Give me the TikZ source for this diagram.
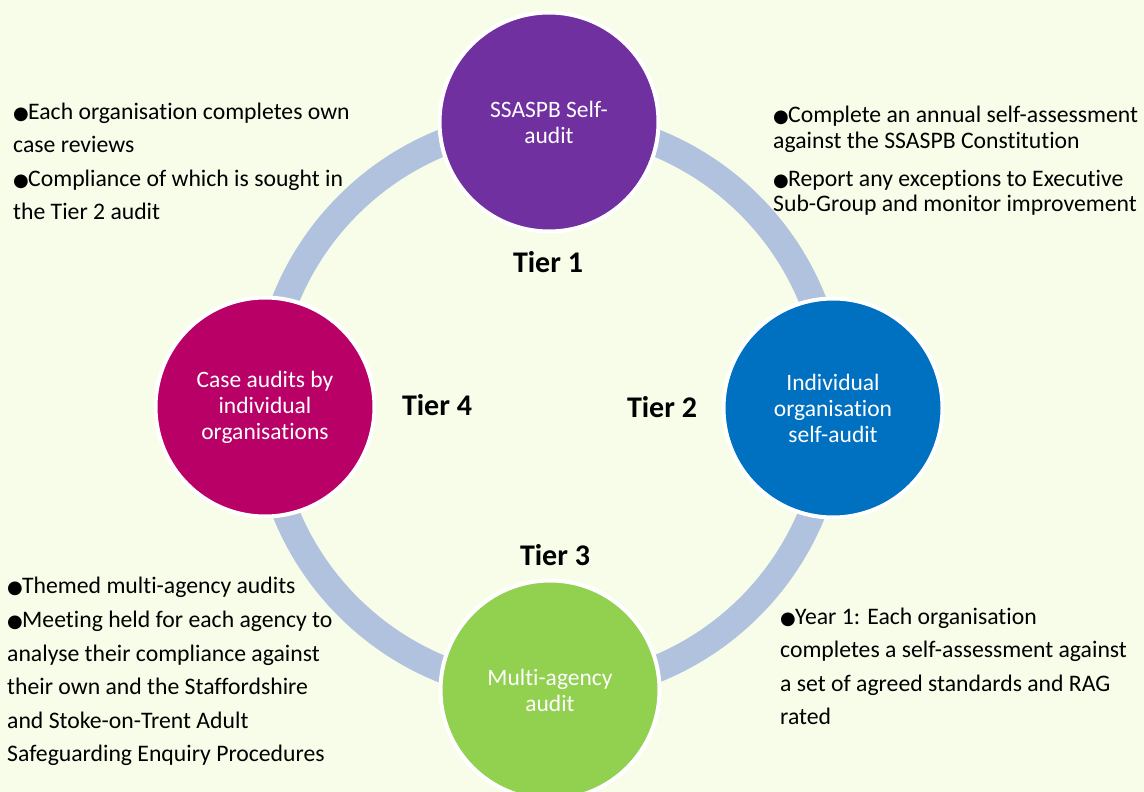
\documentclass[tikz,border=0pt]{standalone}
\usepackage{fontspec}
\setmainfont{Carlito}[Ligatures={NoCommon}]
\newfontfamily\symf{DejaVu Sans}
\definecolor{bgc}{HTML}{F7FDE9}
\definecolor{ringc}{HTML}{B0C2DE}
\definecolor{purplec}{HTML}{7030A0}
\definecolor{bluec}{HTML}{0070C0}
\definecolor{greenc}{HTML}{92D050}
\definecolor{magc}{HTML}{B80066}
\newcommand\bul{\makebox[15pt][l]{\symf\fontsize{18}{18}\selectfont ●}}
\tikzset{
  stage/.style={circle, draw=white, line width=4pt, minimum size=219pt, inner sep=0pt,
    text=white, align=center, font=\fontsize{23.5}{26}\selectfont},
  tier/.style={font=\fontsize{30}{36}\selectfont\bfseries, anchor=base, inner sep=0pt},
  note/.style={font=\fontsize{23.7}{33.5}\selectfont, align=left, anchor=base west, inner sep=0pt},
  tightnote/.style={note, font=\fontsize{23.7}{25.7}\selectfont},
}
\begin{document}
\begin{tikzpicture}[x=1pt,y=-1pt]
\fill[bgc] (0,0) rectangle (1144,792);
\useasboundingbox (0,0) rectangle (1144,792);
\draw[ringc, line width=27pt] (549,406) circle[radius=284pt];
\node[stage, fill=purplec] (t1) at (549,122) {SSASPB Self-\\audit};
\node[stage, fill=bluec] (t2) at (833,408) {Individual\\organisation\\self-audit};
\node[stage, fill=greenc] (t3) at (550,690) {Multi-agency\\audit};
\node[stage, fill=magc] (t4) at (265,407) {Case audits by\\individual\\organisations};
\node[tier] (l1) at (548,272) {Tier 1};
\node[tier] (l2) at (662,417) {Tier 2};
\node[tier] (l3) at (555,565) {Tier 3};
\node[tier] (l4) at (437,415) {Tier 4};
% anchors are placed at the baseline of each block's last line
\node[note] (a1) at (13,152.5) {\bul Each organisation completes own\\case reviews};
\node[note] (a2) at (13,219.5) {\bul Compliance of which is sought in\\the Tier 2 audit};
\node[tightnote] (b1) at (773,148.4) {\bul Complete an annual self-assessment\\against the SSASPB Constitution};
\node[tightnote] (b2) at (773,211.7) {\bul Report any exceptions to Executive\\Sub-Group and monitor improvement};
\node[note] (c1) at (780,724.5) {\bul Year 1: Each organisation\\completes a self-assessment against\\a set of agreed standards and RAG\\rated};
\node[note] (d1) at (7,593.3) {\bul Themed multi-agency audits};
\node[note] (d2) at (7,761.7) {\bul Meeting held for each agency to\\analyse their compliance against\\their own and the Staffordshire\\and Stoke-on-Trent Adult\\Safeguarding Enquiry Procedures};
\end{tikzpicture}
\end{document}
